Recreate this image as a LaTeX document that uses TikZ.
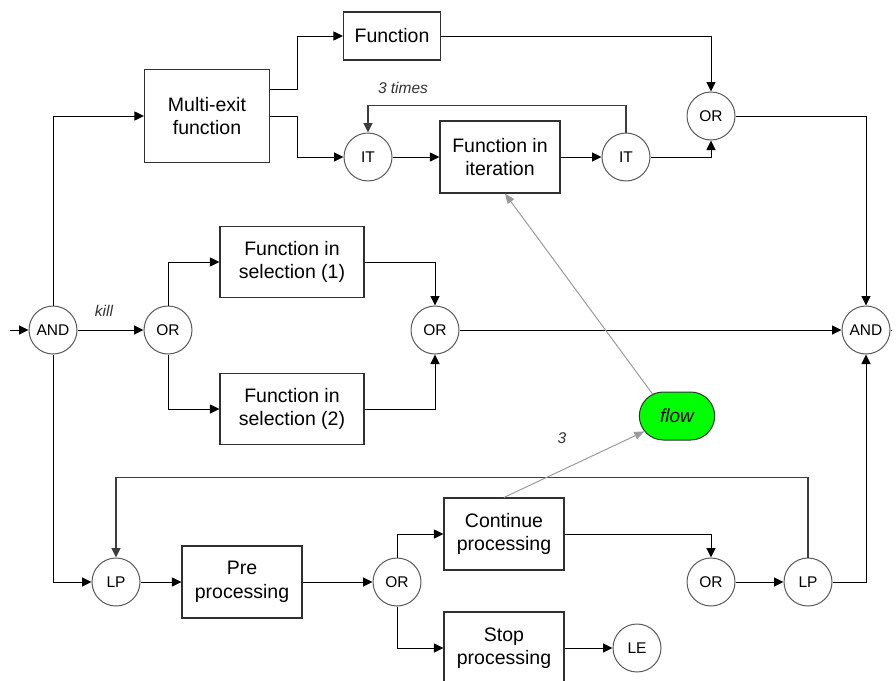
\documentclass[tikz,border=0pt]{standalone}
\usepackage{fontspec}
\setmainfont{Liberation Sans}
\usetikzlibrary{shapes.misc, arrows.meta}
\usepackage{xcolor}
\definecolor{FlowBlack}{HTML}{000000}
\definecolor{FlowBox}{HTML}{303030}
\definecolor{FlowRing}{HTML}{5A5A5A}
\definecolor{FlowLoop}{HTML}{3C3C3C}
\definecolor{FlowGrey}{HTML}{9A9A9A}
\definecolor{FlowGreen}{HTML}{00FF00}
\definecolor{FlowLabel}{HTML}{333333}
\tikzset{
    % Box styles - sharp corners
    func/.style={
        rectangle,
        draw=FlowBox,
        fill=white,
        line width=1.1pt,
        minimum width=120pt,
        minimum height=72pt,
        align=center,
        inner sep=0pt,
        font=\fontsize{19.5}{23.5}\selectfont
    },
    gate/.style={
        circle,
        draw=FlowRing,
        fill=white,
        line width=1pt,
        minimum size=48pt,
        inner sep=0pt,
        font=\fontsize{15.5}{18}\selectfont
    },
    flowbox/.style={
        rounded rectangle,
        draw=FlowBox,
        fill=FlowGreen,
        line width=1pt,
        minimum width=82pt,
        minimum height=48pt,
        font=\fontsize{19}{22}\selectfont\itshape
    },
    lbl/.style={
        text=FlowLabel,
        inner sep=0pt,
        font=\fontsize{15.5}{18}\selectfont\itshape
    },
    % Arrow styles - straight lines only
    arrow/.style={
        -{Triangle[length=9.5pt,width=9pt]},
        line width=1pt,
        draw=FlowBlack
    },
    loopback/.style={
        -{Triangle[length=9.5pt,width=9pt]},
        line width=1.2pt,
        draw=FlowLoop
    },
    line/.style={
        line width=1pt,
        draw=FlowBlack
    },
    greyarrow/.style={
        -{Triangle[length=10pt,width=8pt]},
        line width=1pt,
        draw=FlowGrey
    }
}

\begin{document}
\begin{tikzpicture}[x=1pt, y=-1pt]
    \useasboundingbox (0,0) rectangle (896,680);

    % gates
    \node[gate] (and1) at (53,330) {AND};
    \node[gate] (or1) at (168,330) {OR};
    \node[gate] (or2) at (435,330) {OR};
    \node[gate] (and2) at (866,330) {AND};
    \node[gate] (ortop) at (711,116) {OR};
    \node[gate] (it1) at (368,157) {IT};
    \node[gate] (it2) at (626,157) {IT};
    \node[gate] (lp1) at (116,582) {LP};
    \node[gate] (orpre) at (397,582) {OR};
    \node[gate] (orcont) at (711,582) {OR};
    \node[gate] (lp2) at (808,582) {LP};
    \node[gate] (le) at (637,648) {LE};

    % functions
    \node[func, minimum width=125pt, minimum height=93pt] (multi) at (207,116) {Multi-exit\\function};
    \node[func, minimum width=97pt, minimum height=48pt] (function) at (392,36) {Function};
    \node[func] (iter) at (500,157) {Function in\\iteration};
    \node[func, minimum width=144pt, minimum height=71pt] (sel1) at (292,262) {Function in\\selection (1)};
    \node[func, minimum width=144pt, minimum height=71pt] (sel2) at (292,409) {Function in\\selection (2)};
    \node[func] (pre) at (242,582) {Pre\\processing};
    \node[func] (cont) at (504,534) {Continue\\processing};
    \node[func] (stop) at (504,648) {Stop\\processing};
    \node[flowbox] (flow) at (677,416) {flow};

    % labels
    \node[lbl] (kill) at (104,311) {kill};
    \node[lbl] (times) at (403,88) {3 times};
    \node[lbl] (three) at (562,438) {3};

    \coordinate (in) at (10,330);
    \coordinate (out) at (892,330);

    % top branch
    \draw[arrow] (in) -- (and1);
    \draw[arrow] (and1.north) |- (multi.west);
    \draw[arrow] ([yshift=27pt]multi.east) -- ++(27,0) |- (function.west);
    \draw[arrow] (multi.east) -- ++(27,0) |- (it1.west);
    \draw[arrow] (function.east) -| (ortop.north);
    \draw[arrow] (it1) -- (iter);
    \draw[arrow] (iter) -- (it2);
    \draw[arrow] (it2.east) -| (ortop.south);
    \draw[loopback] (it2.north) -- ++(0,-27) -| (it1.north);
    \draw[arrow] (ortop.east) -| (and2.north);

    % middle branch
    \draw[arrow] (and1) -- (or1);
    \draw[arrow] (or1.north) |- (sel1.west);
    \draw[arrow] (or1.south) |- (sel2.west);
    \draw[arrow] (sel1.east) -| (or2.north);
    \draw[arrow] (sel2.east) -| (or2.south);
    \draw[arrow] (or2) -- (and2);
    \draw[line] (and2.east) -- (out);

    % bottom branch
    \draw[arrow] (and1.south) |- (lp1.west);
    \draw[arrow] (lp1) -- (pre);
    \draw[arrow] (pre) -- (orpre);
    \draw[arrow] (orpre.north) |- (cont.west);
    \draw[arrow] (orpre.south) |- (stop.west);
    \draw[arrow] (stop) -- (le);
    \draw[arrow] (cont.east) -| (orcont.north);
    \draw[arrow] (orcont) -- (lp2);
    \draw[arrow] (lp2.east) -| (and2.south);
    \draw[loopback] (lp2.north) -- ++(0,-80) -| (lp1.north);

    % flow
    \draw[greyarrow] (cont.north) -- (flow);
    \draw[greyarrow] (flow.138) -- ([xshift=5pt]iter.south);
\end{tikzpicture}
\end{document}
